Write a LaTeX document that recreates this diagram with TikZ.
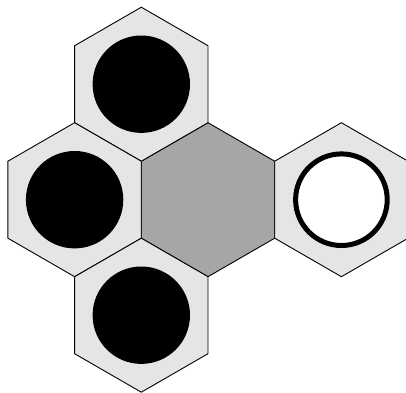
\documentclass[tikz,border=0pt]{standalone}
\usepackage{tikz}
\usetikzlibrary{shapes.geometric,positioning}

\tikzset{
  hexcell/.style={regular polygon,regular polygon sides=6,shape border rotate=30,
    minimum size=154pt,inner sep=0pt,outer sep=0pt,draw=black,line width=0.9pt,fill=gray!20},
  stone/.style={circle,minimum size=97.4pt,inner sep=0pt,fill=black},
  emptystone/.style={circle,minimum size=91.6pt,inner sep=0pt,draw=black,line width=5pt,fill=white}
}

\begin{document}
\begin{tikzpicture}[x=1pt,y=1pt]
  \useasboundingbox (0,0) rectangle (406,392);
  % cells
  \node[hexcell,fill=gray!70] (mid) at (208,192.3) {};
  \node[hexcell] (top) at (141.3,307.8) {};
  \node[hexcell] (left) at (74.6,192.3) {};
  \node[hexcell] (bot) at (141.3,76.8) {};
  \node[hexcell] (right) at (341.4,192.3) {};
  % stones
  \node[stone] (s1) at (top) {};
  \node[stone] (s2) at (left) {};
  \node[stone] (s3) at (bot) {};
  \node[emptystone] (s4) at (right) {};
\end{tikzpicture}
\end{document}
